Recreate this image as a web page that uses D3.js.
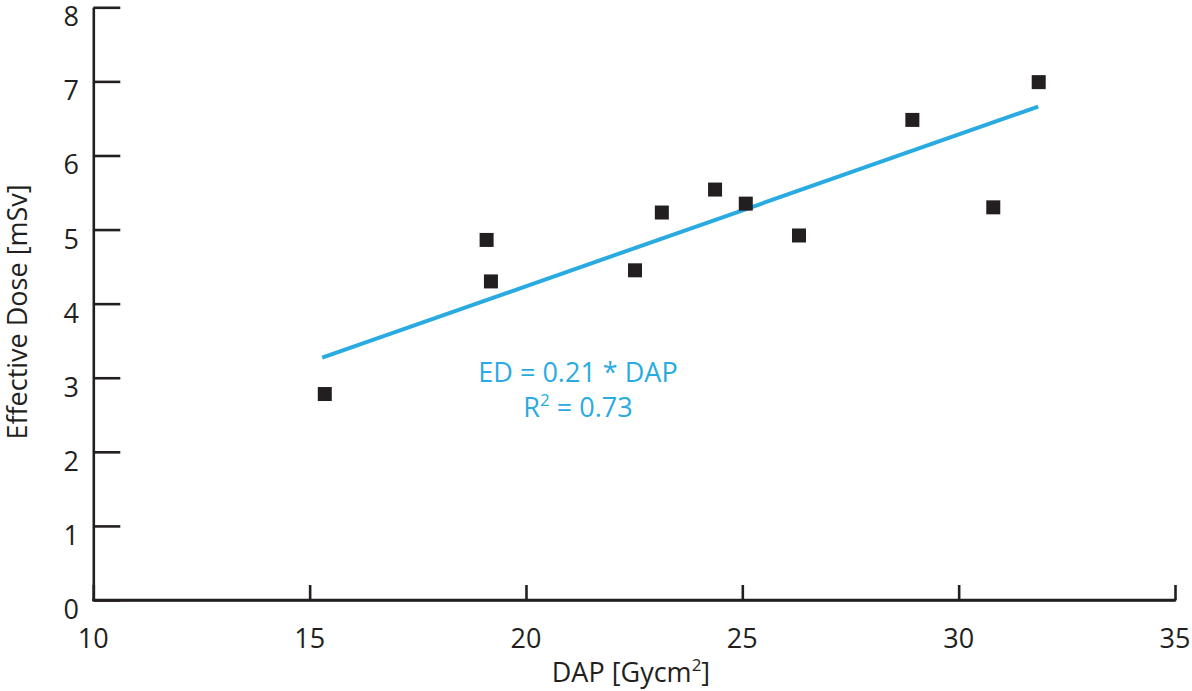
<!DOCTYPE html>
<html>
<head>
<meta charset="utf-8">
<script src="https://cdn.jsdelivr.net/npm/d3@7"></script>
<style>
  html, body { margin: 0; padding: 0; background: #fff; }
  svg { display: block; }
  text { font-family: "Open Sans", "Noto Sans", sans-serif; }
</style>
</head>
<body>
<svg id="chart" width="1192" height="691"></svg>
<script>
// Data
const dapValues = [15.35, 19.09, 19.19, 22.52, 23.14, 24.37, 25.08, 26.31, 28.93, 30.80, 31.85];
const edValues  = [2.78, 4.86, 4.30, 4.45, 5.23, 5.54, 5.35, 4.92, 6.48, 5.30, 6.99];
const fitLineDap = [15.29, 31.84];
const fitLineEd  = [3.27, 6.66];
const xTicks = [10, 15, 20, 25, 30, 35];
const yTicks = [0, 1, 2, 3, 4, 5, 6, 7, 8];
const equationText = "ED = 0.21 * DAP";
const r2Value = "0.73";

const svg = d3.select("#chart");
const axisColor = "#231f20";
const blue = "#29abe2";

const x = d3.scaleLinear().domain([10, 35]).range([93.3, 1175]);
const y = d3.scaleLinear().domain([0, 8]).range([600, 7.3]);

// Y axis (ticks inward)
const yAxis = svg.append("g").attr("transform", `translate(${x(10)},0)`)
  .call(d3.axisRight(y).tickValues(yTicks).tickSize(27).tickSizeOuter(0).tickFormat(""));
yAxis.select(".domain").attr("stroke", axisColor).attr("stroke-width", 2.6);
yAxis.selectAll(".tick line").attr("stroke", axisColor).attr("stroke-width", 2.6);

// X axis (ticks inward)
const xAxis = svg.append("g").attr("transform", `translate(0,${y(0)})`)
  .call(d3.axisTop(x).tickValues(xTicks).tickSize(15).tickSizeOuter(0).tickFormat(""));
xAxis.select(".domain").attr("stroke", axisColor).attr("stroke-width", 2.6);
xAxis.selectAll(".tick line").attr("stroke", axisColor).attr("stroke-width", 2.6);
// hide first x tick line (coincides with y axis)
// extend domain line to cover join
svg.append("line").attr("x1", x(10) - 1.3).attr("x2", x(35) + 1.3)
  .attr("y1", y(0)).attr("y2", y(0)).attr("stroke", axisColor).attr("stroke-width", 2.6);

// Tick labels
svg.append("g").selectAll("text").data(yTicks).join("text")
  .attr("x", 79).attr("y", d => y(d) + 19)
  .attr("text-anchor", "end").attr("font-size", 27).attr("fill", axisColor)
  .text(d => d);

svg.append("g").selectAll("text").data(xTicks).join("text")
  .attr("x", d => x(d)).attr("y", 648)
  .attr("text-anchor", "middle").attr("font-size", 27).attr("fill", axisColor)
  .text(d => d);

// Axis titles
const xt = svg.append("text").attr("x", 631).attr("y", 682)
  .attr("text-anchor", "middle").attr("font-size", 27).attr("fill", axisColor);
xt.append("tspan").text("DAP [Gycm");
xt.append("tspan").attr("font-size", 17).attr("dy", -11).text("2");
xt.append("tspan").attr("dy", 11).text("]");

svg.append("text").attr("transform", "translate(27,312) rotate(-90)")
  .attr("text-anchor", "middle").attr("font-size", 27).attr("fill", axisColor)
  .text("Effective Dose [mSv]");

// Fit line
svg.append("line")
  .attr("x1", x(fitLineDap[0])).attr("y1", y(fitLineEd[0]))
  .attr("x2", x(fitLineDap[1])).attr("y2", y(fitLineEd[1]))
  .attr("stroke", blue).attr("stroke-width", 4);

// Points
const sz = 14;
svg.append("g").selectAll("rect").data(dapValues).join("rect")
  .attr("x", (d, i) => x(d) - sz / 2)
  .attr("y", (d, i) => y(edValues[i]) - sz / 2)
  .attr("width", sz).attr("height", sz)
  .attr("fill", axisColor);

// Annotation
svg.append("text").attr("x", 578).attr("y", 382)
  .attr("text-anchor", "middle").attr("font-size", 27).attr("fill", blue)
  .text(equationText);
const r2 = svg.append("text").attr("x", 578).attr("y", 417)
  .attr("text-anchor", "middle").attr("font-size", 27).attr("fill", blue);
r2.append("tspan").text("R");
r2.append("tspan").attr("font-size", 17).attr("dy", -11).text("2");
r2.append("tspan").attr("dy", 11).text(" = " + r2Value);
</script>
</body>
</html>
